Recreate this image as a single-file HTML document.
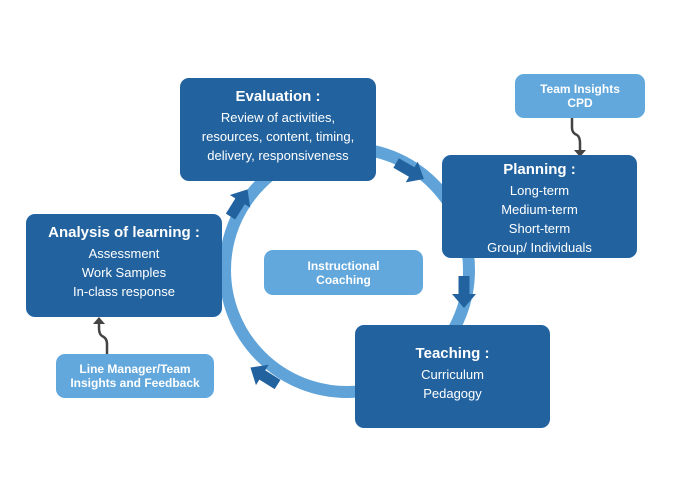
<!DOCTYPE html>
<html><head><style>
body{margin:0;width:700px;height:497px;background:#fff;position:relative;font-family:"Liberation Sans",sans-serif;overflow:hidden}
.b{position:absolute;background:#22639f;border-radius:9px;color:#fff;text-align:center;box-sizing:border-box}
.b h{display:block;font-weight:bold;font-size:15px;margin-bottom:3px}
.b div{font-size:13px;line-height:19px}
.l{position:absolute;background:#62a8dc;border-radius:9px;color:#fff;text-align:center;font-weight:bold;font-size:12px;line-height:14px;display:flex;align-items:center;justify-content:center}
</style></head><body>
<svg width="700" height="497" style="position:absolute;left:0;top:0">
<defs><g id="ar" fill="#22639f"><rect x="-16" y="-5.5" width="19" height="11"/><polygon points="2,-12 16,0 2,12"/></g></defs>
<circle cx="347" cy="270" r="122" fill="none" stroke="#5fa3d8" stroke-width="12"/>
<use href="#ar" transform="translate(410,171) rotate(30)"/>
<use href="#ar" transform="translate(464,292) rotate(90)"/>
<use href="#ar" transform="translate(239,203) rotate(-58)"/>
<use href="#ar" transform="translate(264,376) rotate(-148)"/>
<g fill="none" stroke="#444" stroke-width="2.5">
<path d="M572 118 V128 Q572 133 577 135 Q580 137 580 143 V152"/>
<path d="M107 354 V344 Q107 338 102 336 Q99 334 99 328 V322"/>
</g>
<polygon points="574,150 586,150 580,157" fill="#444"/>
<polygon points="93,324 105,324 99,317" fill="#444"/>
</svg>
<div class="b" style="left:180px;top:78px;width:196px;height:103px;padding-top:10px"><h>Evaluation :</h><div>Review of activities,<br>resources, content, timing,<br>delivery, responsiveness</div></div>
<div class="b" style="left:442px;top:155px;width:195px;height:103px;padding-top:6px"><h>Planning :</h><div>Long-term<br>Medium-term<br>Short-term<br>Group/ Individuals</div></div>
<div class="b" style="left:355px;top:325px;width:195px;height:103px;padding-top:20px"><h>Teaching :</h><div>Curriculum<br>Pedagogy</div></div>
<div class="b" style="left:26px;top:214px;width:196px;height:103px;padding-top:10px"><h>Analysis of learning :</h><div>Assessment<br>Work Samples<br>In-class response</div></div>
<div class="l" style="left:264px;top:250px;width:159px;height:45px">Instructional<br>Coaching</div>
<div class="l" style="left:515px;top:74px;width:130px;height:44px">Team Insights<br>CPD</div>
<div class="l" style="left:56px;top:354px;width:158px;height:44px">Line Manager/Team<br>Insights and Feedback</div>
</body></html>
